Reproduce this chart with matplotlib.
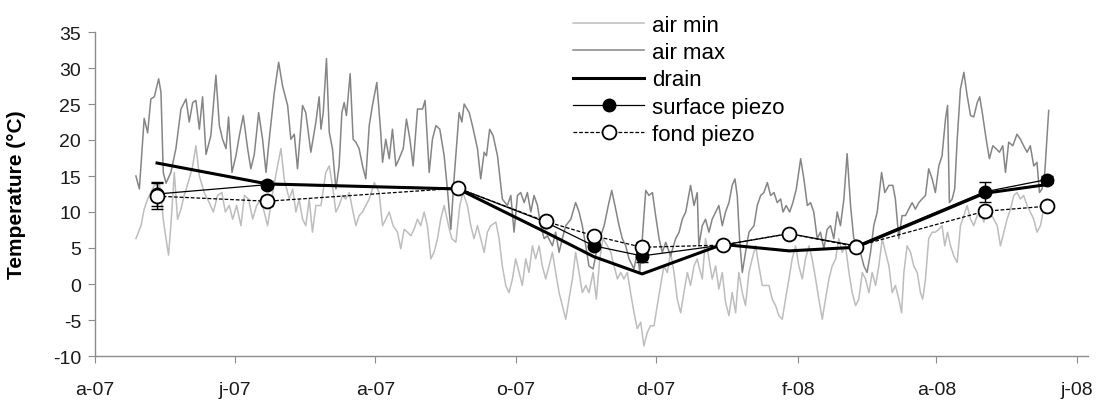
import numpy as np
import matplotlib.pyplot as plt

plt.rcParams['font.family'] = ['Liberation Sans', 'DejaVu Sans']
plt.rcParams['axes.unicode_minus'] = False

# days counted from 1 April 2007
start = np.datetime64('2007-04-01')

air_max = [(17.8, 15.0), (19.3, 13.2), (21.4, 23.0), (22.9, 21.0), (24.3, 25.7), (25.8, 26.0), (27.7, 28.5),
           (28.7, 26.6), (29.7, 15.5), (30.9, 14.0), (33.0, 15.5), (35.2, 18.8), (37.4, 24.3), (39.6, 25.7),
           (41.0, 22.5), (42.5, 25.2), (43.9, 25.5), (45.4, 21.5), (46.8, 26.0), (48.3, 18.0), (50.4, 20.6),
           (52.6, 29.0), (54.1, 22.0), (55.5, 20.1), (57.0, 18.8), (58.1, 23.2), (59.6, 15.5), (61.3, 17.8),
           (62.8, 20.6), (64.5, 23.4), (66.4, 18.8), (67.8, 16.0), (69.3, 18.0), (71.2, 23.8), (72.9, 20.1),
           (74.4, 15.5), (75.8, 20.1), (78.0, 26.6), (79.9, 30.8), (81.6, 27.5), (83.8, 24.8), (85.2, 20.1),
           (86.7, 20.8), (88.1, 16.0), (90.3, 24.8), (91.7, 23.8), (93.9, 18.3), (96.1, 22.5),
           (97.5, 26.0), (98.3, 21.5), (99.3, 23.8), (100.7, 31.3), (101.9, 21.1), (103.3, 18.8), (104.8, 13.2),
           (106.2, 16.4), (107.4, 23.8), (108.4, 25.2), (109.4, 23.4), (111.0, 29.2), (112.3, 20.1), (113.5, 19.7),
           (114.9, 18.8), (116.4, 16.4), (117.8, 14.6), (119.3, 22.0), (120.7, 24.8), (122.6, 28.0), (124.3, 21.1),
           (125.1, 16.9), (126.5, 20.1), (128.0, 17.4), (129.4, 21.5), (130.9, 16.4), (132.3, 17.4), (134.1, 18.8),
           (135.5, 22.9), (137.0, 20.1), (138.4, 16.4), (140.3, 24.3), (142.5, 24.3), (143.6, 25.5), (145.4, 15.5),
           (146.8, 20.1), (148.3, 22.0), (150.0, 21.5), (151.9, 17.8), (153.3, 13.2), (154.8, 7.6), (156.2, 14.6),
           (158.4, 23.8), (159.6, 22.5), (160.6, 25.0), (162.8, 23.8), (164.2, 22.0), (166.4, 18.8), (167.8, 14.6),
           (169.3, 18.3), (170.3, 17.8), (171.7, 21.5), (173.2, 20.6), (175.1, 17.8), (177.2, 11.8), (179.4, 10.9),
           (180.9, 12.3),
           (182.3, 7.2), (183.8, 12.3), (185.2, 12.7), (186.7, 11.3), (188.1, 12.7), (189.6, 10.0), (191.0, 12.3),
           (192.5, 10.9), (193.9, 8.1), (195.4, 6.3), (196.8, 6.7), (199.0, 5.3), (200.4, 7.2), (201.9, 4.4),
           (203.3, 6.3), (204.8, 8.1), (207.0, 9.0), (209.1, 11.3), (210.6, 10.0), (212.0, 8.1), (213.5, 5.3),
           (214.9, 2.5), (216.7, 2.1), (218.1, 4.4), (219.6, 6.3), (221.5, 8.1), (223.3, 10.9), (224.8, 13.0),
           (226.2, 10.9), (228.0, 8.1), (229.4, 6.3), (230.9, 5.3), (232.3, 3.5), (234.5, 2.1), (235.9, 4.4),
           (237.0, 1.6), (238.1, 6.3), (239.6, 13.0), (241.0, 12.3), (242.5, 12.7), (243.9, 9.5), (245.4, 6.3),
           (246.8, 4.4), (248.3, 5.8), (250.4, 3.9), (252.6, 6.3), (254.1, 7.2), (255.5, 9.0), (257.0, 10.0),
           (259.1, 13.7), (260.6, 10.9), (262.0, 12.7),
           (262.7, 5.3), (264.2, 8.1), (265.6, 9.0), (267.1, 7.2), (268.5, 9.0), (270.0, 10.0), (271.4, 10.9),
           (272.9, 8.1), (274.3, 10.0), (275.8, 11.3), (277.2, 13.7), (278.4, 14.6), (279.4, 12.3), (280.4, 6.3),
           (281.6, 1.6), (283.0, 4.4), (284.5, 7.2), (286.7, 8.1), (288.1, 10.9), (289.6, 12.3), (291.0, 12.7),
           (292.5, 14.1), (293.9, 12.3), (295.4, 12.7), (296.8, 11.3), (298.3, 11.8), (299.3, 10.0), (300.7, 10.9),
           (302.2, 10.0), (303.6, 11.3), (305.1, 13.2), (307.0, 17.4), (308.4, 14.6), (309.9, 10.9), (311.3, 11.3),
           (312.7, 10.0), (314.2, 6.3), (315.6, 7.2), (317.1, 4.9), (318.5, 7.6), (320.0, 8.1), (321.4, 6.3),
           (322.9, 10.0), (324.3, 8.1), (325.8, 11.8), (327.2, 18.1), (328.7, 10.9), (330.1, 6.3), (331.6, 5.8),
           (333.0, 4.4), (334.5, 2.5), (335.9, 1.6), (337.4, 4.4), (338.8, 8.1), (340.3, 10.0), (342.2, 15.5),
           (343.6, 12.7), (345.4, 13.7),
           (347.1, 13.7), (348.2, 11.8), (349.7, 6.3), (351.1, 9.5), (352.6, 9.5), (354.0, 10.4), (355.5, 11.3),
           (356.9, 10.4), (358.4, 11.3), (359.8, 11.8), (361.3, 12.3), (362.7, 16.0), (364.2, 14.6), (365.6, 12.7),
           (367.1, 16.4), (368.5, 17.8), (370.0, 22.9), (370.9, 24.8), (371.7, 11.3), (372.9, 11.8), (374.0, 13.2),
           (375.1, 20.1), (376.5, 27.1), (378.0, 29.4), (379.4, 26.2), (380.9, 23.4), (382.3, 23.2), (383.8, 25.2),
           (384.9, 26.0), (386.2, 23.4), (387.7, 20.1), (389.1, 17.4), (390.6, 19.2), (392.0, 18.8), (393.5, 18.3),
           (394.9, 19.2), (396.1, 15.5), (397.5, 19.7), (399.3, 19.2), (401.1, 20.8), (402.6, 20.1), (404.0, 19.2),
           (405.5, 18.3), (406.9, 19.2), (408.4, 16.4), (409.8, 16.9), (410.9, 12.7), (412.0, 13.2), (413.2, 15.5),
           (414.9, 24.1)]

air_min = [(17.8, 6.3), (20.0, 8.1), (21.4, 10.4), (22.9, 11.8), (24.3, 12.7), (25.8, 13.7), (28.0, 14.1),
           (29.7, 9.0), (30.9, 6.3), (32.0, 4.0), (33.0, 8.1), (34.5, 15.5), (35.9, 9.0), (37.4, 10.4),
           (38.8, 12.3), (41.0, 14.6), (42.5, 16.4), (43.9, 19.2), (45.4, 15.0), (47.5, 12.7), (49.7, 11.3),
           (51.5, 10.0), (53.3, 12.3), (55.2, 12.7), (56.7, 10.0), (58.4, 10.9), (59.9, 9.0), (61.6, 10.9),
           (63.5, 8.1), (65.0, 12.3), (66.8, 11.8), (68.6, 9.0), (70.3, 10.9), (72.2, 11.8), (73.6, 10.0),
           (75.1, 8.1), (77.3, 12.7), (79.4, 16.4), (80.9, 18.8), (82.3, 14.6), (84.5, 11.8), (86.0, 13.2),
           (87.4, 10.0), (88.8, 11.8), (90.3, 9.0), (91.7, 8.1), (93.2, 11.8), (94.6, 7.2), (96.1, 10.9),
           (98.3, 10.9), (100.4, 15.5), (101.9, 16.4), (103.3, 13.7), (104.8, 10.0), (106.2, 10.9), (107.7, 12.3),
           (109.1, 11.8), (110.6, 12.7), (112.0, 10.4), (113.5, 8.1), (114.9, 9.5), (116.4, 10.0), (117.8, 10.9),
           (119.3, 11.8), (121.5, 14.1), (123.6, 12.7), (125.1, 8.1), (126.5, 9.0), (128.0, 10.0), (129.7, 8.1),
           (131.6, 7.2), (133.0, 4.9), (134.5, 7.6), (135.9, 7.2), (137.4, 6.7), (138.8, 7.6), (140.3, 9.0),
           (141.7, 8.1), (143.2, 10.0), (144.6, 8.1), (146.1, 3.5), (147.5, 4.4), (149.0, 6.3), (150.4, 9.0),
           (151.9, 10.9), (153.8, 8.1), (155.2, 6.3), (157.0, 5.8), (158.7, 10.9), (160.1, 12.7), (162.0, 10.9),
           (163.5, 8.1), (164.9, 6.3), (166.4, 8.1), (167.8, 6.3), (169.3, 4.4), (170.7, 7.2), (172.2, 8.1),
           (174.4, 8.6), (175.8, 6.3), (177.2, 2.5), (178.7, -0.2), (180.1, -1.2),
           (181.6, 0.7), (183.0, 3.5), (184.5, 1.6), (185.9, -0.2), (187.4, 3.5), (188.8, 1.6), (190.3, 5.3),
           (191.7, 3.5), (193.2, 5.3), (194.6, 2.5), (196.1, 0.7), (197.5, 2.5), (199.0, 4.4), (200.4, 1.6),
           (201.9, -1.2), (203.3, -3.0), (204.8, -4.9), (206.2, -2.1), (207.7, 0.7), (209.1, 4.4), (210.6, 1.6),
           (212.0, -1.2), (213.5, -0.2), (214.9, -1.2), (216.7, 1.6), (218.1, -2.1), (219.6, 3.5), (221.0, 6.3),
           (222.9, 5.3), (224.4, 4.4), (225.8, 2.5), (227.3, 0.7), (228.7, 1.6), (230.1, 0.7), (231.6, 1.6),
           (233.0, -1.2), (234.5, -4.0), (235.9, -6.2), (237.4, -5.3), (238.8, -8.6), (240.3, -6.7), (241.7, -5.8),
           (243.2, -5.8), (244.6, -3.0), (246.1, -0.2), (247.5, 2.5), (249.0, 1.6), (250.4, 4.4), (251.9, 1.6),
           (253.3, -2.1), (254.8, -4.0), (256.2, -1.2), (257.7, 1.6), (259.1, -0.2), (260.6, 2.5), (262.0, 3.5),
           (262.7, 2.5), (264.2, 0.7), (265.6, 6.3), (267.1, 3.5), (268.5, 0.7), (270.0, 2.5), (271.4, -0.7),
           (272.9, 1.6), (274.3, -2.5), (275.8, -4.4), (277.2, -1.2), (278.7, -4.0), (280.1, 1.6), (281.6, -1.2),
           (283.0, -3.0), (284.5, 1.6), (285.9, 3.5), (287.4, 5.3), (288.8, 2.5), (290.3, -0.2), (291.7, -0.2),
           (293.2, -0.2), (294.6, -2.1), (296.1, -3.0), (297.5, -4.4), (299.0, -4.9), (300.4, -2.1), (301.9, 0.7),
           (303.3, 3.5), (304.8, 5.3), (306.2, 2.5), (307.7, 0.7), (309.1, 3.5), (310.6, 5.3), (312.0, 3.5),
           (313.5, 0.7), (314.9, -2.1), (316.4, -4.9), (317.8, -2.1), (319.3, 0.7), (320.7, 2.5), (322.2, 3.5),
           (323.6, 6.3), (325.1, 4.4), (326.5, 5.3), (328.0, 1.6), (329.4, -1.2), (330.9, -3.0), (332.3, -2.1),
           (333.8, 1.6), (335.2, 0.7), (336.7, -1.2), (338.1, 1.6), (339.6, -0.2), (341.0, 2.5), (342.5, 6.3),
           (343.9, 4.4), (345.4, 2.5),
           (346.8, -1.2), (348.2, -0.2), (349.7, -2.1), (350.9, -4.0), (351.9, 1.6), (353.3, 5.3), (354.8, 4.4),
           (356.2, 2.5), (357.7, 1.6), (359.1, -1.2), (360.1, -2.1), (361.3, 0.7), (362.7, 6.3), (364.2, 7.2),
           (365.6, 7.2), (367.1, 7.6), (368.5, 8.1), (369.7, 5.3), (370.9, 7.2), (372.2, 5.3), (373.6, 3.9),
           (375.1, 3.0), (376.5, 8.1), (378.0, 9.5), (379.4, 10.9), (380.9, 9.0), (382.3, 8.1), (383.8, 9.5),
           (385.2, 10.0), (386.7, 8.6), (388.1, 10.9), (389.6, 10.0), (391.0, 9.0), (392.5, 8.1), (393.9, 5.3),
           (395.4, 7.2), (396.8, 9.0), (398.3, 10.4), (399.7, 12.3), (401.1, 12.7), (402.6, 11.8), (404.0, 12.3),
           (405.5, 10.9), (406.9, 10.0), (408.4, 9.0), (409.8, 7.2), (411.3, 8.1), (412.7, 10.4), (414.2, 11.8)]

piezo_dates = ['2007-04-28', '2007-06-15', '2007-09-06', '2007-10-14', '2007-11-04', '2007-11-25',
               '2007-12-30', '2008-01-28', '2008-02-26', '2008-04-22', '2008-05-19']
drain = [16.8, 13.9, 13.2, 7.2, 3.8, 1.4, 5.5, 4.6, 5.1, 12.6, 13.8]
surface = [12.5, 13.8, 13.3, 8.6, 5.3, 3.9, 5.4, 7.0, 5.3, 12.8, 14.5]
surface_err = [1.6, 0.5, 0.4, 0.4, 0.5, 0.9, 0.4, 0.4, 0.4, 1.4, 0.5]
fond = [12.2, 11.5, 13.3, 8.7, 6.7, 5.1, 5.4, 7.0, 5.2, 10.1, 10.8]
fond_err = [1.8, 0.7, 0.4, 0.4, 0.5, 0.7, 0.4, 0.4, 0.4, 0.6, 0.5]

tick_dates = ['2007-04-01', '2007-06-01', '2007-08-01', '2007-10-01', '2007-12-01',
              '2008-02-01', '2008-04-01', '2008-06-01']
tick_labels = ['a-07', 'j-07', 'a-07', 'o-07', 'd-07', 'f-08', 'a-08', 'j-08']


def to_dates(days):
    mins = np.round(np.asarray(days) * 1440).astype('int64')
    return start + mins.astype('timedelta64[m]')


amax_d, amax_v = zip(*air_max)
amin_d, amin_v = zip(*air_min)
pdates = np.array(piezo_dates, dtype='datetime64[D]')

fig = plt.figure(figsize=(10.98, 4.06), dpi=100)
ax = fig.add_axes([95 / 1098, 49 / 406, (1088 - 95) / 1098, 324 / 406])

ax.plot(to_dates(amin_d), amin_v, color='#bdbdbd', lw=1.1, label='air min', zorder=1)
ax.plot(to_dates(amax_d), amax_v, color='#858585', lw=1.1, label='air max', zorder=2)
ax.plot(pdates, drain, color='black', lw=2.2, label='drain', zorder=3)

ax.errorbar(pdates, surface, yerr=surface_err, fmt='none', ecolor='black', elinewidth=1.0,
            capsize=4, capthick=1.0, zorder=4)
ax.plot(pdates, surface, color='black', lw=0.9, marker='o', ms=9, mfc='black', mec='black',
        label='surface piezo', zorder=5)
ax.errorbar(pdates, fond, yerr=fond_err, fmt='none', ecolor='black', elinewidth=1.0,
            capsize=4, capthick=1.0, zorder=6)
ax.plot(pdates, fond, color='black', lw=0.9, ls=(0, (3, 1.5)), marker='o', ms=10, mfc='white',
        mec='black', mew=1.3, label='fond piezo', zorder=7)

ax.set_xlim(start, start + np.timedelta64(432, 'D'))
ax.set_ylim(-10, 35)
ax.set_yticks(np.arange(-10, 36, 5))
ax.set_xticks(np.array(tick_dates, dtype='datetime64[D]'))
ax.set_xticklabels(tick_labels)

for s in ['top', 'right']:
    ax.spines[s].set_visible(False)
for s in ['left', 'bottom']:
    ax.spines[s].set_color('#8c8c8c')
    ax.spines[s].set_linewidth(1.0)
ax.tick_params(axis='both', colors='#8c8c8c', labelcolor='#1a1a1a', labelsize=14, length=5, direction='out')
ax.tick_params(axis='x', pad=13)
ax.tick_params(axis='y', pad=5)

ax.set_ylabel('Temperature (°C)', fontsize=15, fontweight='bold')
ax.yaxis.set_label_coords(-0.069, 0.5)

ax.legend(loc='upper left', bbox_to_anchor=(573 / 1098, 1 - 16 / 406), bbox_transform=fig.transFigure,
          frameon=False, fontsize=16, handlelength=3.2, handletextpad=0.35, labelspacing=0.28,
          borderpad=0, borderaxespad=0, numpoints=1)

fig.savefig('out.png', dpi=100)
